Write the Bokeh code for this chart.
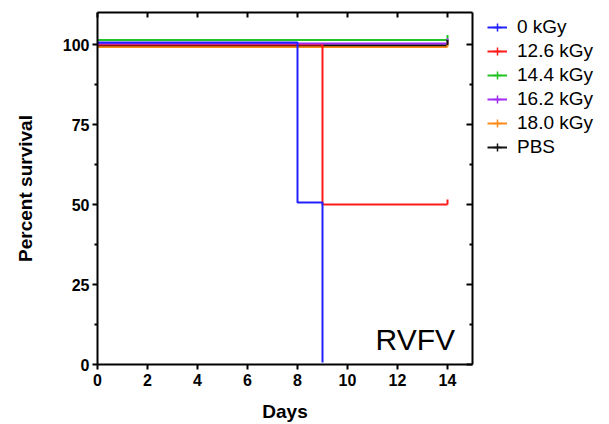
import numpy as np
from bokeh.plotting import figure
from bokeh.layouts import row
from bokeh.models import (Range1d, LinearAxis, FixedTicker, Legend, LegendItem,
                          Label, CustomJSTickFormatter)
from bokeh.embed import file_html
from bokeh.resources import INLINE

# ---------------- data ----------------
series = ["0 kGy", "12.6 kGy", "14.4 kGy", "16.2 kGy", "18.0 kGy", "PBS"]
days_0kGy = [0, 8, 9]
surv_0kGy = [100, 50, 0]
days_12_6 = [0, 9, 14]
surv_12_6 = [100, 50, 50]
days_14_4 = [0, 14]
surv_14_4 = [100, 100]
days_16_2 = [0, 14]
surv_16_2 = [100, 100]
days_18_0 = [0, 14]
surv_18_0 = [100, 100]
days_pbs = [0, 14]
surv_pbs = [100, 100]
censored = [False, True, True, True, True, True]   # survivors at end of study

x_ticks = [0, 2, 4, 6, 8, 10, 12, 14]
y_ticks = [0, 25, 50, 75, 100]
y_minor = [12.5, 37.5, 62.5, 87.5]

all_days = [days_0kGy, days_12_6, days_14_4, days_16_2, days_18_0, days_pbs]
all_surv = [surv_0kGy, surv_12_6, surv_14_4, surv_16_2, surv_18_0, surv_pbs]

# ---------------- style ----------------
colors = ["#2020FF", "#FF1A1A", "#22C322", "#A02CF5", "#FF8C1A", "#111111"]
nudge = [0.6, 0.0, 1.4, 0.3, -0.8, -0.2]   # small display offsets so overlapping curves stay visible
draw_order = [4, 5, 1, 3, 0, 2]
FONT = "Liberation Sans"

p = figure(width=483, height=424,
           x_range=Range1d(0, 15), y_range=Range1d(0, 110),
           output_backend="svg", toolbar_location=None,
           min_border_left=97, min_border_right=11,
           min_border_top=12, min_border_bottom=60)
p.outline_line_color = None
p.xgrid.visible = False
p.ygrid.visible = False
p.background_fill_color = "white"
p.border_fill_color = "white"

# bottom axis
xa = p.xaxis[0]
xa.ticker = FixedTicker(ticks=x_ticks)
xa.axis_line_width = 2
xa.major_tick_line_width = 2
xa.major_tick_out = 5
xa.major_tick_in = 0
xa.minor_tick_out = 0
xa.minor_tick_in = 0
xa.major_label_text_font = FONT
xa.major_label_text_font_style = "bold"
xa.major_label_text_font_size = "16px"
xa.major_label_text_color = "black"
xa.major_label_standoff = 4
xa.axis_label = "Days"
xa.axis_label_text_font = FONT
xa.axis_label_text_font_style = "bold"
xa.axis_label_text_font_size = "19px"
xa.axis_label_text_color = "black"
xa.axis_label_standoff = 12

# left axis
ya = p.yaxis[0]
ya.ticker = FixedTicker(ticks=y_ticks, minor_ticks=y_minor)
ya.axis_line_width = 2
ya.major_tick_line_width = 2
ya.minor_tick_line_width = 2
ya.major_tick_out = 5
ya.major_tick_in = 0
ya.minor_tick_out = 3
ya.minor_tick_in = 0
ya.major_label_text_font = FONT
ya.major_label_text_font_style = "bold"
ya.major_label_text_font_size = "16px"
ya.major_label_text_color = "black"
ya.major_label_standoff = 3
ya.axis_label = "Percent survival"
ya.axis_label_text_font = FONT
ya.axis_label_text_font_style = "bold"
ya.axis_label_text_font_size = "19px"
ya.axis_label_text_color = "black"
ya.axis_label_standoff = 24

blank = CustomJSTickFormatter(code="return ''")

top = LinearAxis(ticker=FixedTicker(ticks=x_ticks), formatter=blank,
                 axis_line_width=2, major_tick_line_width=2,
                 major_tick_in=5, major_tick_out=0, minor_tick_in=0, minor_tick_out=0,
                 major_label_text_font_size="0px", major_label_standoff=0)
p.add_layout(top, "above")

right = LinearAxis(ticker=FixedTicker(ticks=y_ticks, minor_ticks=y_minor), formatter=blank,
                   axis_line_width=2, major_tick_line_width=2, minor_tick_line_width=2,
                   major_tick_in=6, major_tick_out=0, minor_tick_in=3, minor_tick_out=0,
                   major_label_text_font_size="0px", major_label_standoff=0)
p.add_layout(right, "right")

# curves
for i in draw_order:
    ys = [v + nudge[i] for v in all_surv[i]]
    p.step(all_days[i], ys, mode="after", line_color=colors[i], line_width=2)
for i in range(6):
    if censored[i]:
        p.scatter([all_days[i][-1]], [all_surv[i][-1] + nudge[i] + 0.8],
                  marker="dash", angle=np.pi / 2, size=5,
                  line_color=colors[i], line_width=2)

p.add_layout(Label(x=14.3, y=7.8, text="RVFV", text_align="right",
                   text_baseline="alphabetic", text_font=FONT,
                   text_font_size="30px", text_color="black"))

# ---------------- legend panel ----------------
pl = figure(width=126, height=424, x_axis_type=None, y_axis_type=None,
            output_backend="svg", toolbar_location=None,
            min_border=0,
            x_range=Range1d(0, 1), y_range=Range1d(0, 1))
pl.outline_line_color = None
pl.background_fill_color = "white"
pl.border_fill_color = "white"

items = []
for i in range(6):
    # legend-key renderers only (nothing visible in this panel)
    lr = pl.line([np.nan], [np.nan], line_color=colors[i], line_width=2)
    mr = pl.scatter([np.nan], [np.nan], marker="cross", size=6,
                    line_color=colors[i], line_width=1.5)
    items.append(LegendItem(label=series[i], renderers=[lr, mr]))

legend = Legend(items=items, location="top_left", glyph_width=20, glyph_height=20,
                label_height=20, spacing=2, label_standoff=10, padding=0, margin=4,
                border_line_color=None, background_fill_alpha=0,
                label_text_font=FONT, label_text_font_size="19px",
                label_text_color="black")
pl.add_layout(legend, "center")

layout = row(p, pl)
open("out.html", "w").write(file_html(layout, INLINE))
